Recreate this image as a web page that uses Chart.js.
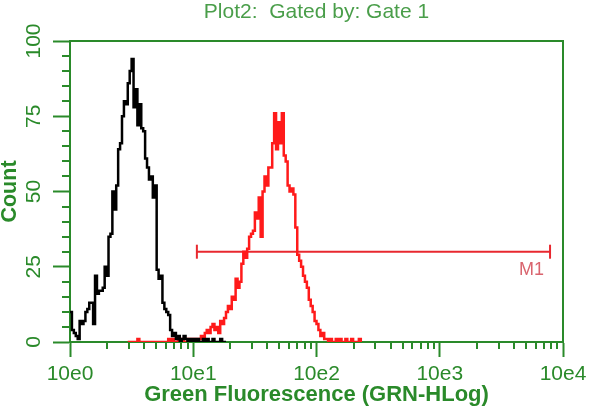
<!DOCTYPE html>
<html><head><meta charset="utf-8">
<style>html,body{margin:0;padding:0;background:#fff;}canvas{display:block;}</style>
<script src="https://cdn.jsdelivr.net/npm/chart.js@4/dist/chart.umd.min.js"></script>
</head><body>
<canvas id="c" width="600" height="411"></canvas>
<script>
// ---- data ----
const chartTitle = 'Plot2:  Gated by: Gate 1';
const xAxisTitle = 'Green Fluorescence (GRN-HLog)';
const yAxisTitle = 'Count';
const channelsPerDecade = 64;           // 256 channels over 4 log decades
const xTickValues = [1, 10, 100, 1000, 10000];
const xTickLabels = ['10e0', '10e1', '10e2', '10e3', '10e4'];
const yTickValues = [0, 25, 50, 75, 100];

// black histogram (control), counts per channel starting at channel 0
const blackStart = 0;
const blackCounts = [10,4,3,2,1,7,6,7,10,11,13,13,6,22,16,17,17,18,25,22,
  35,36,50,44,52,64,66,75,80,79,86,90,94,78,84,72,79,71,70,61,
  58,54,55,48,52,24,21,22,13,11,10,9,4,2,3,1,2,0,1,2,
  1,0,1,0,1,0,1,0,0,1,0,1,0,0,1,0,0,0,1,0,0,0];

// red histogram (stained), counts per channel starting at channel 30
const redStart = 30;
const redCounts = [0,0,0,0,0,1,0,0,0,0,0,0,0,0,0,0,0,0,0,0,
  0,1,0,1,0,0,1,0,1,0,0,1,0,1,
  0,1,0,1,2,1,3,4,3,5,6,4,5,3,7,6,8,10,12,11,
  15,14,21,18,20,26,30,28,31,35,36,37,43,41,48,35,50,55,52,58,
  58,66,76,64,73,66,76,62,60,52,50,51,49,38,29,27,25,22,20,18,
  14,12,10,7,6,4,2,3,1,1,0,1,0,0,1,0,1,0,0,1,0,0,1,0,0,0,1,0];

// marker M1
const markerLabel = 'M1';
const markerRange = [10.7, 7850];
const markerLevel = 30;

// ---- styles ----
const GREEN = '#2a8a2a';
const FONT = "'Liberation Sans', Arial, sans-serif";

function toPoints(start, counts) {
  return counts.map((c, i) => ({ x: Math.pow(10, (start + i) / channelsPerDecade), y: c }));
}

const frameAndMinor = {
  id: 'frameAndMinor',
  afterDraw(chart) {
    const { ctx, chartArea: a, scales: { x, y } } = chart;
    ctx.save();
    ctx.strokeStyle = GREEN;
    ctx.lineWidth = 2;
    ctx.beginPath();
    ctx.moveTo(a.left - 1, a.top);
    ctx.lineTo(a.right, a.top);
    ctx.lineTo(a.right, a.bottom);
    for (let d = 0; d < xTickValues.length - 1; d++) {
      for (let k = 2; k <= 9; k++) {
        const px = Math.round(x.getPixelForValue(k * xTickValues[d]));
        ctx.moveTo(px, a.bottom);
        ctx.lineTo(px, a.bottom + 7);
      }
    }
    for (let v = 5; v < 100; v += 5) {
      if (v % 25 === 0) continue;
      const py = Math.round(y.getPixelForValue(v));
      ctx.moveTo(a.left, py);
      ctx.lineTo(a.left - 8, py);
    }
    ctx.stroke();
    // marker label
    const ex = x.getPixelForValue(markerRange[1]);
    const ey = y.getPixelForValue(markerLevel);
    ctx.fillStyle = '#d9646e';
    ctx.font = '18px ' + FONT;
    ctx.textAlign = 'right';
    ctx.textBaseline = 'top';
    ctx.fillText(markerLabel, ex - 6, ey + 9);
    ctx.restore();
  }
};

new Chart(document.getElementById('c'), {
  type: 'line',
  data: {
    datasets: [
      { data: toPoints(blackStart, blackCounts), borderColor: '#000', borderWidth: 2.5,
        pointRadius: 0, stepped: true, fill: false },
      { data: toPoints(redStart, redCounts), borderColor: '#ff1a1a', borderWidth: 2.5,
        pointRadius: 0, stepped: true, fill: false },
      { data: [{ x: markerRange[0], y: markerLevel }, { x: markerRange[1], y: markerLevel }],
        borderColor: '#e8282f', borderWidth: 2, pointStyle: 'line', pointRadius: 7,
        pointRotation: 90, pointBorderWidth: 2, pointBorderColor: '#e8282f', clip: false }
    ]
  },
  options: {
    responsive: false,
    animation: false,
    devicePixelRatio: 1,
    layout: { padding: { left: 0, right: 37, top: 0, bottom: 0 } },
    plugins: {
      legend: { display: false },
      tooltip: { enabled: false },
      title: {
        display: true, text: chartTitle, fullSize: false, color: '#4a9e4a',
        font: { family: FONT, size: 21, weight: 'normal' },
        padding: { top: 0, bottom: 15.8 }
      }
    },
    scales: {
      x: {
        type: 'logarithmic', min: 1, max: 10000, z: 1,
        afterBuildTicks: s => { s.ticks = xTickValues.map(v => ({ value: v })); },
        afterFit: s => { s.height = 69; },
        ticks: {
          autoSkip: false, maxRotation: 0, minRotation: 0, padding: 5, color: GREEN,
          font: { family: FONT, size: 21 },
          callback: (v) => xTickLabels[xTickValues.indexOf(v)]
        },
        grid: { drawOnChartArea: false, tickLength: 15, tickColor: GREEN, tickWidth: 2 },
        border: { color: GREEN, width: 2 },
        title: { display: true, text: xAxisTitle, color: GREEN,
          font: { family: FONT, size: 22, weight: 'bold' }, padding: { top: 0, bottom: 3 } }
      },
      y: {
        min: 0, max: 100,
        afterBuildTicks: s => { s.ticks = yTickValues.map(v => ({ value: v })); },
        afterFit: s => { s.width = 70; },
        ticks: {
          minRotation: 90, maxRotation: 90, crossAlign: 'center', padding: 1.5, color: GREEN,
          font: { family: FONT, size: 21 }
        },
        grid: { drawOnChartArea: false, tickLength: 17, tickColor: GREEN, tickWidth: 2 },
        border: { color: GREEN, width: 2 },
        title: { display: true, text: yAxisTitle, color: GREEN,
          font: { family: FONT, size: 21.5, weight: 'bold', lineHeight: 0.9 }, padding: 0 }
      }
    }
  },
  plugins: [frameAndMinor]
});
</script>
</body></html>
